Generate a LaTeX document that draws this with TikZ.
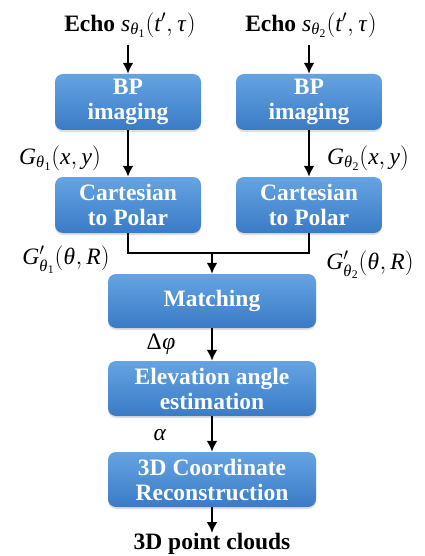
\documentclass[tikz,border=0pt]{standalone}
\usepackage{mathspec}
\setmainfont{Liberation Serif}
\setmathsfont(Digits,Latin,Greek){Liberation Serif}
\usetikzlibrary{arrows.meta,shadows}
\tikzset{
  x=1pt,y=1pt,
  proc/.style={rounded corners=8pt, draw=none, top color=boxtop, bottom color=boxbot,
    text=white, font=\fontsize{23.5}{27}\selectfont\bfseries, align=center,
    inner sep=0pt, drop shadow={opacity=0.25, shadow xshift=0pt, shadow yshift=-2pt}},
  lbl/.style={font=\fontsize{23.5}{27}\selectfont, inner sep=0pt},
  flow/.style={line width=2.2pt, -{Latex[length=11pt,width=11pt]}},
  seg/.style={line width=2.2pt}
}
\definecolor{boxtop}{HTML}{65A3E2}
\definecolor{boxbot}{HTML}{3A7BC6}
\begin{document}
\begin{tikzpicture}
\useasboundingbox (0,0) rectangle (424,-556);
% inputs
\node[lbl] (e1) at (130,-25) {\textbf{Echo} $s_{\theta_1}(t',\tau)$};
\node[lbl] (e2) at (311,-25) {\textbf{Echo} $s_{\theta_2}(t',\tau)$};
% boxes
\node[proc, minimum width=146pt, minimum height=56pt] (bp1) at (128,-102) {BP\\[-2pt]imaging};
\node[proc, minimum width=146pt, minimum height=56pt] (bp2) at (309,-102) {BP\\[-2pt]imaging};
\node[proc, minimum width=146pt, minimum height=56pt] (cp1) at (128,-205) {Cartesian\\[-2pt]to Polar};
\node[proc, minimum width=146pt, minimum height=56pt] (cp2) at (309,-205) {Cartesian\\[-2pt]to Polar};
\node[proc, minimum width=208pt, minimum height=54pt] (mt) at (212,-301) {Matching};
\node[proc, minimum width=208pt, minimum height=55pt] (el) at (212,-388.5) {Elevation angle\\[-2pt]estimation};
\node[proc, minimum width=208pt, minimum height=55pt] (rc) at (212,-479.5) {3D Coordinate\\[-2pt]Reconstruction};
\node[lbl, font=\fontsize{23.5}{27}\selectfont\bfseries] (out) at (212,-544) {3D point clouds};
% labels
\node[lbl] (g1) at (60,-158) {$G_{\theta_1}(x,y)$};
\node[lbl] (g2) at (368,-158) {$G_{\theta_2}(x,y)$};
\node[lbl] (h1) at (66,-260) {$G'_{\theta_1}(\theta,R)$};
\node[lbl] (h2) at (370,-265) {$G'_{\theta_2}(\theta,R)$};
\node[lbl] (dp) at (161,-344) {$\Delta\phi$};
\node[lbl] (al) at (160,-435) {$\alpha$};
% connectors
\coordinate (j) at (212,-253);
\coordinate (o) at (212,-533);
\coordinate (s1) at (128,-45);
\coordinate (s2) at (309,-45);
\draw[flow] (s1) -- (bp1.north);
\draw[flow] (s2) -- (bp2.north);
\draw[flow] (bp1) -- (cp1);
\draw[flow] (bp2) -- (cp2);
\draw[seg] (cp1.south) |- (j) -| (cp2.south);
\draw[flow] (j) -- (mt.north);
\draw[flow] (mt) -- (el);
\draw[flow] (el) -- (rc);
\draw[flow] (rc.south) -- (o);
\end{tikzpicture}
\end{document}
